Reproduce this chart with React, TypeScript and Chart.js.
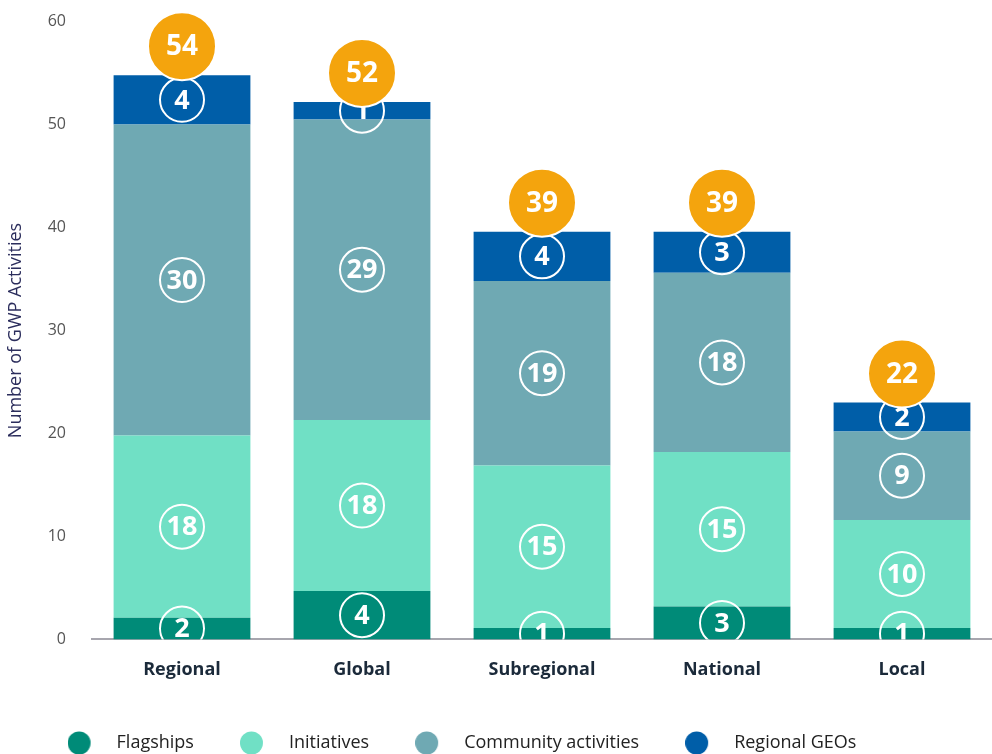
import React, { useEffect, useRef } from 'react';
import { Chart, registerables } from 'chart.js';

Chart.register(...registerables);

const categories = ['Regional', 'Global', 'Subregional', 'National', 'Local'];
const seriesNames = ['Flagships', 'Initiatives', 'Community activities', 'Regional GEOs'];

// segment heights as drawn
const flagships = [2.1, 4.7, 1.1, 3.2, 1.1];
const initiatives = [17.7, 16.6, 15.8, 15.0, 10.5];
const communityActivities = [30.2, 29.2, 17.9, 17.4, 8.6];
const regionalGeos = [4.8, 1.7, 4.8, 4.0, 2.8];

// numbers printed in the circles
const flagshipLabels = [2, 4, 1, 3, 1];
const initiativeLabels = [18, 18, 15, 15, 10];
const communityLabels = [30, 29, 19, 18, 9];
const geoLabels = [4, 1, 4, 3, 2];
const totalLabels = [54, 52, 39, 39, 22];

const yMin = 0;
const yMax = 60;
const yStep = 10;

const seriesColors = ['#008B78', '#70E0C5', '#6FA9B3', '#005EA8'];
const totalColor = '#F4A40D';
const FONT = "'Open Sans', 'Noto Sans', sans-serif";

const seriesValues = [flagships, initiatives, communityActivities, regionalGeos];
const seriesLabels = [flagshipLabels, initiativeLabels, communityLabels, geoLabels];

const badgePlugin = {
  id: 'badges',
  afterDatasetsDraw(chart: any) {
    const ctx = chart.ctx as CanvasRenderingContext2D;
    const area = chart.chartArea;
    ctx.save();
    ctx.beginPath();
    ctx.rect(area.left, 0, area.right - area.left, area.bottom);
    ctx.clip();
    seriesLabels.forEach((labels, di) => {
      const meta = chart.getDatasetMeta(di);
      meta.data.forEach((el: any, i: number) => {
        const x = el.x;
        const cy = (el.y + el.base) / 2;
        ctx.beginPath();
        ctx.arc(x, cy, 22, 0, Math.PI * 2);
        ctx.lineWidth = 2;
        ctx.strokeStyle = '#ffffff';
        ctx.stroke();
        ctx.fillStyle = '#ffffff';
        ctx.font = `bold 27px ${FONT}`;
        ctx.textAlign = 'center';
        ctx.textBaseline = 'middle';
        ctx.fillText(String(labels[i]), x, cy + 1);
      });
    });
    ctx.restore();

    const topMeta = chart.getDatasetMeta(seriesValues.length - 1);
    ctx.save();
    topMeta.data.forEach((el: any, i: number) => {
      const x = el.x;
      const cy = el.y - 29;
      ctx.beginPath();
      ctx.arc(x, cy, 34, 0, Math.PI * 2);
      ctx.fillStyle = totalColor;
      ctx.fill();
      ctx.lineWidth = 2;
      ctx.strokeStyle = '#ffffff';
      ctx.stroke();
      ctx.fillStyle = '#ffffff';
      ctx.font = `bold 28px ${FONT}`;
      ctx.textAlign = 'center';
      ctx.textBaseline = 'middle';
      ctx.fillText(String(totalLabels[i]), x, cy + 1);
    });
    ctx.restore();
  },
};

const legendShift = {
  id: 'legendShift',
  afterLayout(chart: any) {
    const l = chart.legend;
    if (!l) return;
    const dx = -34;
    const dy = -13;
    l.left += dx;
    l.right += dx;
    l.top += dy;
    l.bottom = chart.height;
  },
};

function makeDot(color: string) {
  const c = document.createElement('canvas');
  c.width = 40;
  c.height = 24;
  const g = c.getContext('2d')!;
  g.fillStyle = color;
  g.beginPath();
  g.arc(11.5, 12, 11.5, 0, Math.PI * 2);
  g.fill();
  return c;
}

export default function App() {
  const ref = useRef<HTMLCanvasElement | null>(null);

  useEffect(() => {
    if (!ref.current) return;
    const dots = seriesColors.map(makeDot);
    const chart = new Chart(ref.current, {
      type: 'bar',
      data: {
        labels: categories,
        datasets: seriesNames.map((name, i) => ({
          label: name,
          data: seriesValues[i],
          backgroundColor: seriesColors[i],
          borderWidth: 0,
          barPercentage: 0.76,
          categoryPercentage: 1,
        })),
      },
      options: {
        responsive: true,
        maintainAspectRatio: false,
        animation: false,
        layout: { padding: { top: 0, left: 0, right: 0, bottom: 0 } },
        plugins: {
          tooltip: { enabled: false },
          legend: {
            position: 'bottom',
            align: 'center',
            maxHeight: 53,
            labels: {
              usePointStyle: true,
              pointStyleWidth: 40,
              boxHeight: 18,
              padding: 46,
              color: '#222222',
              font: { family: FONT, size: 18 },
              generateLabels: () =>
                seriesNames.map((name, i) => ({
                  text: name,
                  fillStyle: seriesColors[i],
                  strokeStyle: seriesColors[i],
                  lineWidth: 0,
                  pointStyle: dots[i] as any,
                  hidden: false,
                  datasetIndex: i,
                  fontColor: '#222222',
                })),
            },
          },
        },
        scales: {
          x: {
            stacked: true,
            grid: { display: false, drawTicks: false },
            border: { display: true, color: '#A7A6AE', width: 2 },
            ticks: {
              color: '#1B2A3A',
              padding: 20,
              font: { family: FONT, size: 18, weight: 'bold' },
            },
          },
          y: {
            stacked: true,
            min: yMin,
            max: yMax,
            grid: { display: false, drawTicks: true, tickLength: 14 },
            border: { display: false },
            ticks: {
              stepSize: yStep,
              color: '#555555',
              padding: 12,
              font: { family: FONT, size: 16 },
            },
            title: {
              display: true,
              text: 'Number of GWP Activities',
              color: '#2B2D5C',
              padding: { top: 5, bottom: 4 },
              font: { family: FONT, size: 18 },
            },
            afterFit: (scale: any) => {
              scale.width = 92;
            },
          },
        },
      },
      plugins: [badgePlugin, legendShift],
    });
    return () => chart.destroy();
  }, []);

  return (
    <div style={{ position: 'fixed', left: 0, top: 0, width: 992, height: 754, background: '#ffffff' }}>
      <canvas ref={ref} />
    </div>
  );
}
